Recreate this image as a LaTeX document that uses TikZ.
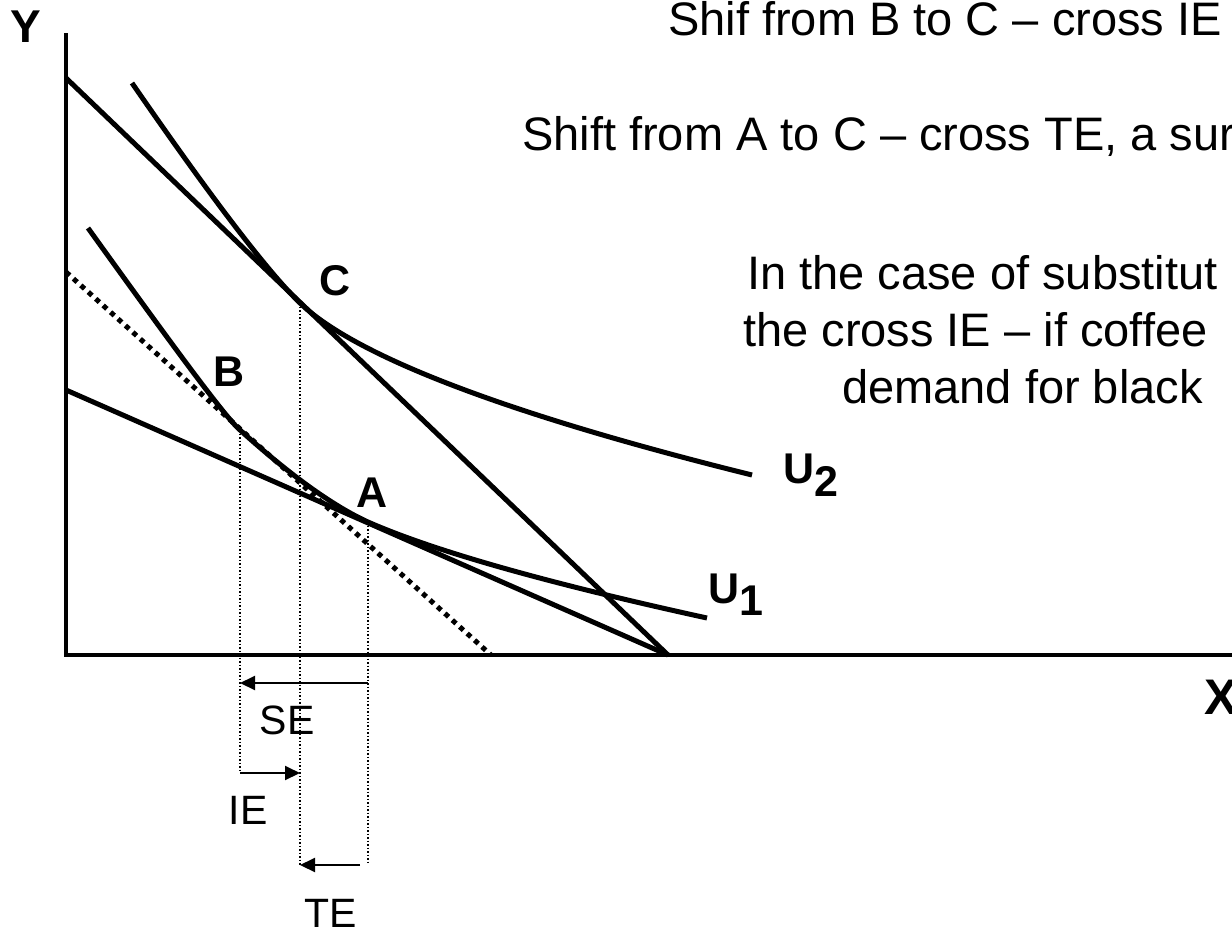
\documentclass[tikz,border=0pt]{standalone}
\usepackage{fontspec}
\setmainfont{Liberation Sans}
\usetikzlibrary{arrows.meta}

\begin{document}
\begin{tikzpicture}[x=1pt,y=-1pt,>={Triangle[length=15pt,width=14pt]},
  axis/.style={line width=4pt},
  curve/.style={line width=5pt},
  guide/.style={line width=1.5pt,dash pattern=on 1.5pt off 2pt},
  comp/.style={line width=5pt,dash pattern=on 5pt off 5pt},
  eff/.style={line width=2pt,->},
  lbl/.style={font=\fontsize{43}{50}\selectfont\bfseries,inner sep=0pt},
  note/.style={font=\fontsize{47}{56}\selectfont,inner sep=0pt,anchor=base west},
  tag/.style={font=\fontsize{41}{49}\selectfont,inner sep=0pt}]
\useasboundingbox (0,0) rectangle (1232,935);
\clip (0,0) rectangle (1232,935);
% axes
\coordinate (o) at (66,655);
\coordinate (ytop) at (66,33);
\coordinate (xend) at (1232,655);
\draw[axis] (ytop) -- (66,657);
\draw[axis] (64,655) -- (xend);
\node[lbl,font=\fontsize{46}{50}\selectfont\bfseries] (ylab) at (26,27) {Y};
\node[lbl,font=\fontsize{50}{50}\selectfont\bfseries,anchor=west] (xlab) at (1204,697) {X};
% budget lines
\coordinate (m1) at (66,390);
\coordinate (m2) at (66,78);
\coordinate (m3) at (66,272);
\coordinate (xi) at (668,655);
\coordinate (x3) at (491,655);
\draw[curve] (m1) -- (xi);
\draw[curve] (m2) -- (xi);
\draw[comp] (m3) -- (x3);
% tangency points
\coordinate (B) at (240,430);
\coordinate (A) at (368,522);
\coordinate (C) at (300,303);
% indifference curves
\coordinate (u1s) at (88,228);
\coordinate (u1e) at (707,618);
\coordinate (u2s) at (132,83);
\coordinate (u2e) at (752,475);
\draw[curve] (u1s) .. controls (175,349) and (225,417) .. (B)
  .. controls (292,477) and (335,507) .. (A)
  .. controls (434,551) and (547,583) .. (u1e);
\draw[curve] (u2s) .. controls (212,199) and (268,272) .. (C)
  .. controls (355,356) and (506,414) .. (u2e);
\node[lbl,anchor=base west] (u1) at (708,603) {U\raisebox{-12pt}{1}};
\node[lbl,anchor=base west] (u2) at (783,483) {U\raisebox{-13pt}{2}};
\node[lbl] (cl) at (335,281) {C};
\node[lbl] (bl) at (229,372) {B};
\node[lbl] (al) at (372,493) {A};
% guides down to the effects
\coordinate (bdown) at (240,773);
\coordinate (cdown) at (300,865);
\coordinate (adown) at (368,865);
\draw[guide] (B) -- (bdown);
\draw[guide] (C) -- (cdown);
\draw[guide] (A) -- (adown);
\coordinate (se1) at (368,683);
\coordinate (se2) at (240,683);
\coordinate (ie2) at (300,773);
\coordinate (te1) at (360,865);
\draw[eff] (se1) -- (se2);
\draw[eff] (bdown) -- (ie2);
\draw[eff] (te1) -- (cdown);
\node[tag] (se) at (287,720) {SE};
\node[tag] (ie) at (248,810) {IE};
\node[tag] (te) at (331,913) {TE};
% notes
\node[note] (n1) at (668,35) {Shif from B to C – cross IE};
\node[note] (n2) at (522,150) {Shift from A to C – cross TE, a sur};
\node[note] (n3) at (747,289) {In the case of substitut};
\node[note] (n4) at (743,346) {the cross IE – if coffee};
\node[note] (n5) at (842,403) {demand for black};
\end{tikzpicture}
\end{document}
